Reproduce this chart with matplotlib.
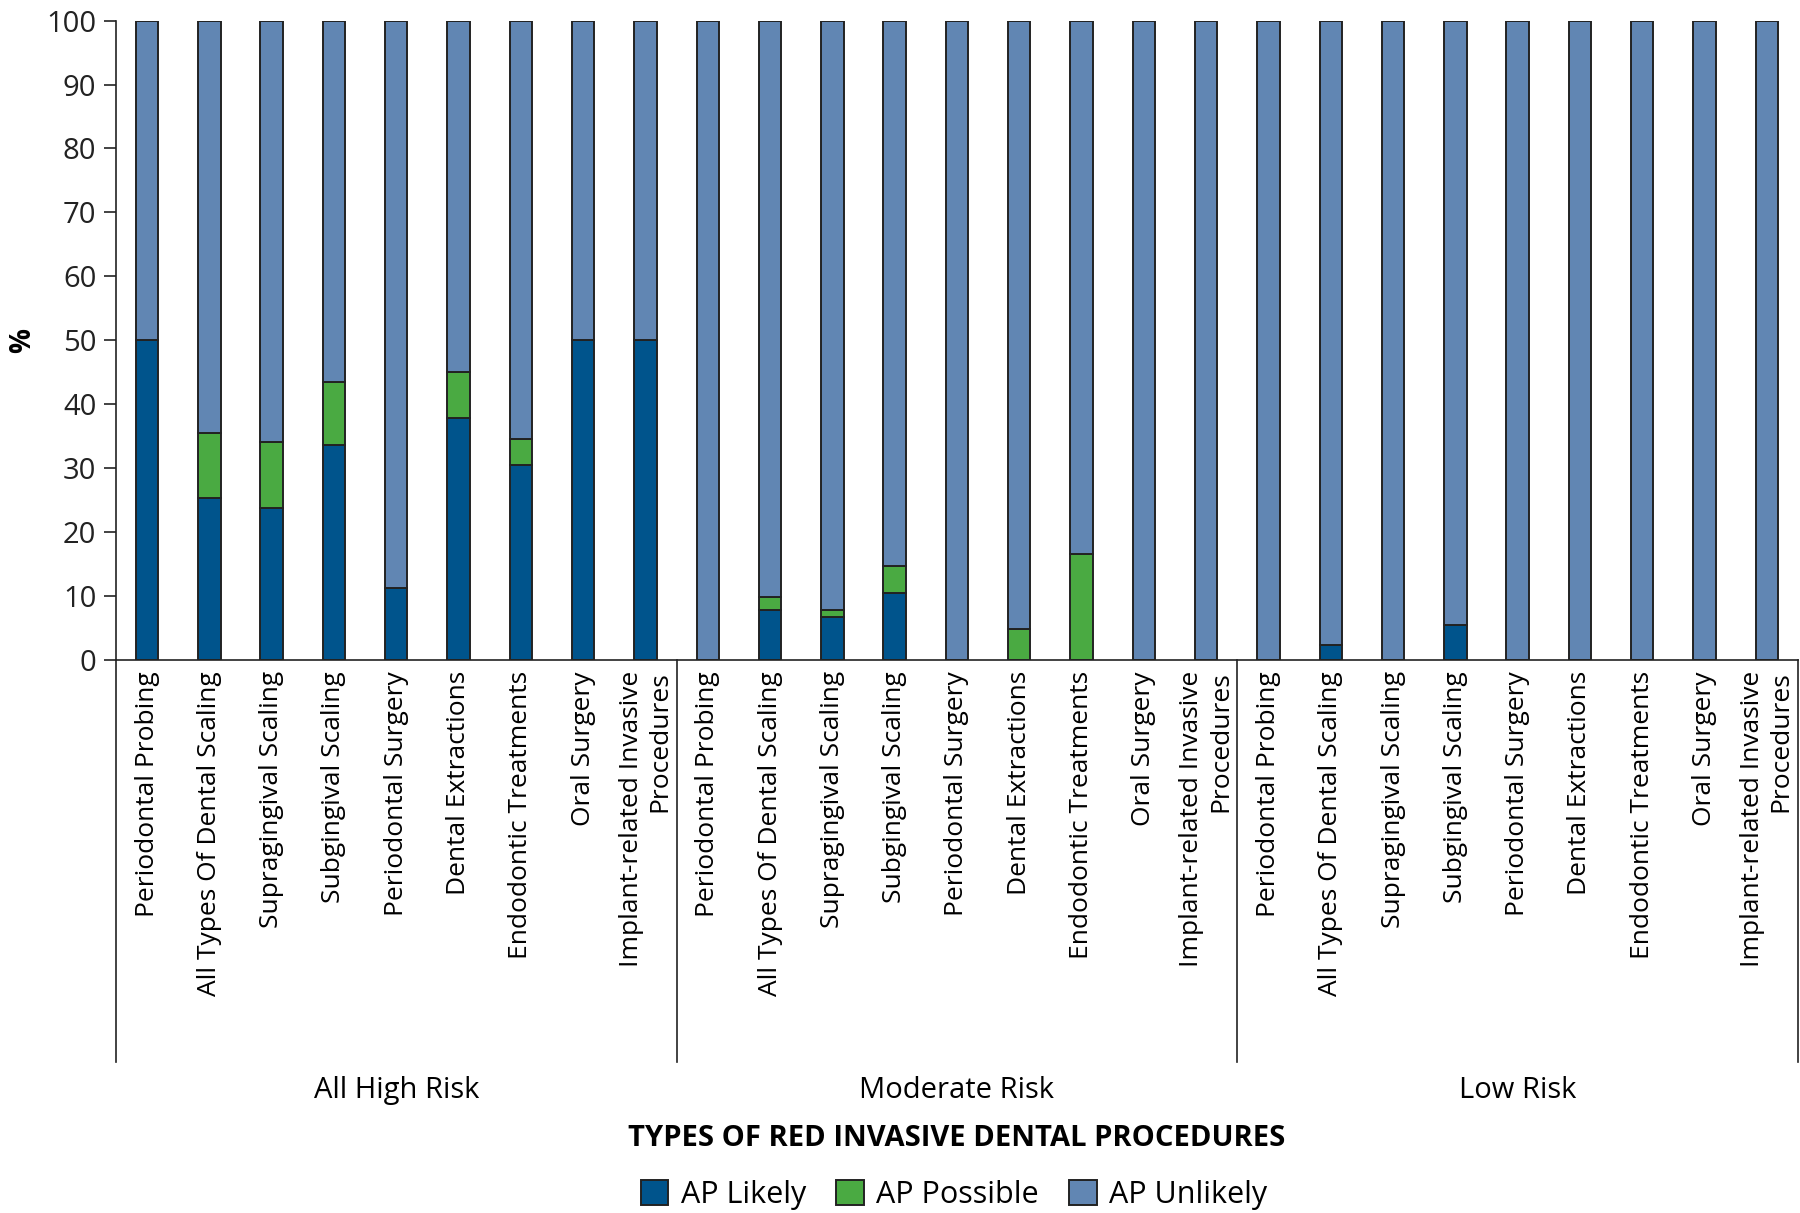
import matplotlib
matplotlib.use('Agg')
import matplotlib.pyplot as plt
import numpy as np

plt.rcParams['font.family'] = ['Open Sans', 'DejaVu Sans']

# data (%)
procedures = ['Periodontal Probing', 'All Types Of Dental Scaling', 'Supragingival Scaling',
              'Subgingival Scaling', 'Periodontal Surgery', 'Dental Extractions',
              'Endodontic Treatments', 'Oral Surgery', 'Implant-related Invasive\nProcedures']
groups = ['All High Risk', 'Moderate Risk', 'Low Risk']

likely_high = [50, 25.4, 23.7, 33.7, 11.2, 37.9, 30.5, 50, 50]
possible_high = [0, 10.1, 10.4, 9.8, 0, 7.1, 4.1, 0, 0]
likely_mod = [0, 7.8, 6.8, 10.4, 0, 0, 0, 0, 0]
possible_mod = [0, 2.0, 1.0, 4.3, 0, 4.9, 16.5, 0, 0]
likely_low = [0, 2.3, 0, 5.5, 0, 0, 0, 0, 0]
possible_low = [0, 0, 0, 0, 0, 0, 0, 0, 0]

likely = np.array(likely_high + likely_mod + likely_low)
possible = np.array(possible_high + possible_mod + possible_low)
unlikely = 100 - likely - possible
labels = procedures * 3

c_likely = '#00548C'
c_possible = '#4AAA42'
c_unlikely = '#6186B3'

fig = plt.figure(figsize=(18, 12.13), dpi=100)
ax = fig.add_axes([0.0644, 0.4559, 0.9345, 0.5271])

x = np.arange(len(labels))
w = 0.36
kw = dict(width=w, edgecolor='#222222', linewidth=1.4)
ax.bar(x, likely, color=c_likely, label='AP Likely', **kw)
ax.bar(x, possible, bottom=likely, color=c_possible, label='AP Possible', **kw)
ax.bar(x, unlikely, bottom=likely + possible, color=c_unlikely, label='AP Unlikely', **kw)

ax.set_xlim(-0.5, len(labels) - 0.5)
ax.set_ylim(0, 100)
ax.set_yticks(np.arange(0, 101, 10))
ax.tick_params(axis='y', labelsize=21, length=9, width=1.2, pad=5, colors='#222222')
ax.set_xticks(x)
ax.set_xticklabels(labels, rotation=90, fontsize=19, multialignment='right')
ax.tick_params(axis='x', length=0, pad=8)
for s in ['top', 'right']:
    ax.spines[s].set_visible(False)
for s in ['left', 'bottom']:
    ax.spines[s].set_linewidth(1.2)
    ax.spines[s].set_color('#222222')

ax.set_ylabel('%', fontsize=20, fontweight='bold')
ax.yaxis.set_label_coords(-0.047, 0.5)

# group separators and labels below the axis
trans = ax.get_xaxis_transform()
for b in [-0.5, 8.5, 17.5, 26.5]:
    ax.plot([b, b], [0, -0.629], transform=trans, color='#222222', lw=1.2, clip_on=False)
for i, g in enumerate(groups):
    ax.text(i * 9 + 4, -0.673, g, transform=trans, ha='center', va='center', fontsize=21)
ax.text(13, -0.749, 'TYPES OF RED INVASIVE DENTAL PROCEDURES', transform=trans,
        ha='center', va='center', fontsize=21, fontweight='bold')

fig.legend(loc='center', bbox_to_anchor=(0.530, 0.0148), ncol=3, frameon=False,
           fontsize=22, handlelength=0.9, handleheight=0.9, columnspacing=1.0,
           handletextpad=0.4)

fig.savefig('out.png', dpi=100)
